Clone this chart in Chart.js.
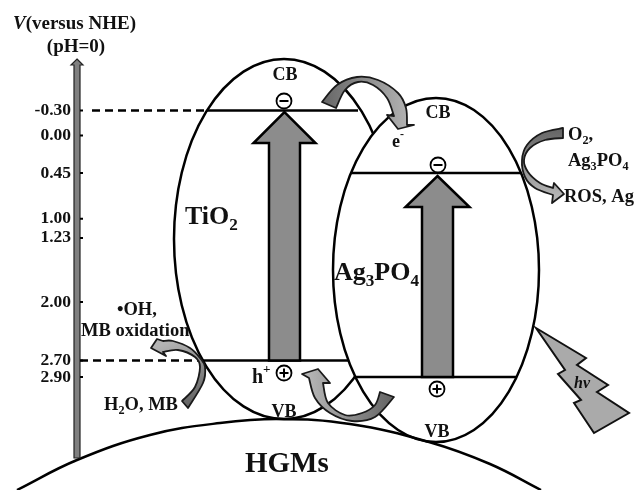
<!DOCTYPE html>
<html>
<head>
<meta charset="utf-8">
<style>
  body { margin: 0; background: #fff; }
  canvas { display: block; filter: blur(0.4px); }
</style>
<script src="https://cdn.jsdelivr.net/npm/chart.js@4"></script>
</head>
<body>
<canvas id="bandChart" width="636" height="490"></canvas>
<script>
// DATA

const potentials = [-0.30, 0.00, 0.45, 1.00, 1.23, 2.00, 2.70, 2.90];
const tio2Levels = [-0.30, 2.70];      // CB, VB
const ag3po4Levels = [0.45, 2.90];     // CB, VB
const hgmX = [17, 77, 150, 220, 279, 350, 429, 490, 541];
const hgmY = [490, 460, 435, 423, 419, 424, 442, 464, 490];

// SHAPES (x, y in picture units)

const tio2Oval = [284, 239, 110, 180];
const agOval = [436, 270, 103, 172];

const lightning = [[536,328],[586,358],[577,365],[608,385],[597,392],[629,413],[594,433],[574,403],[581,400],[558,374],[565,370]];

// each arrow: outer edge, head, inner edge
const curvedArrows = [
  { from: "#666", to: "#b4b4b4", x0: 322, x1: 410,
    outer: [[322,102],[337,85],[357,77],[378,80],[398,93],[406,108],[407,125]],
    head: [[414,125],[398,129],[387,115],[394,116]],
    inner: [[394,116],[387,98],[373,85],[358,82],[345,90],[336,108]] },
  { from: "#b4b4b4", to: "#666", x0: 560, x1: 560, y0: 195, y1: 130,
    outer: [[563,128],[542,133],[527,145],[522,160],[525,177],[535,188],[553,195]],
    head: [[552,203],[564,194],[554,183],[553,188]],
    inner: [[553,188],[540,183],[528,172],[524,160],[530,148],[545,140],[563,138]] },
  { from: "#666", to: "#b4b4b4", x0: 185, x1: 160, y0: 405, y1: 345,
    outer: [[182,401],[195,387],[200,367],[195,357],[178,350],[163,352]],
    head: [[166,356],[151,348],[157,339],[163,341]],
    inner: [[163,341],[173,341],[190,348],[200,358],[205,367],[203,383],[188,408]] },
  { from: "#666", to: "#b4b4b4", x0: 390, x1: 310,
    outer: [[394,397],[375,417],[352,421],[330,413],[315,398],[309,378]],
    head: [[302,374],[318,369],[330,383],[323,383]],
    inner: [[323,383],[328,403],[345,415],[362,413],[375,405],[380,392]] }
];

const FONT = '"Liberation Serif", serif';

// SMALL DRAW HELPERS

// curve through the points, pen already at the first one
function smooth(ctx, pts) {
  for (let i = 0; i < pts.length - 1; i++) {
    const p0 = pts[Math.max(i - 1, 0)];
    const p1 = pts[i];
    const p2 = pts[i + 1];
    const p3 = pts[Math.min(i + 2, pts.length - 1)];
    ctx.bezierCurveTo(
      p1[0] + (p2[0] - p0[0]) / 6, p1[1] + (p2[1] - p0[1]) / 6,
      p2[0] - (p3[0] - p1[0]) / 6, p2[1] - (p3[1] - p1[1]) / 6,
      p2[0], p2[1]
    );
  }
}

function drawOval(ctx, o) {
  ctx.beginPath();
  ctx.ellipse(o[0], o[1], o[2], o[3], 0, 0, Math.PI * 2);
  ctx.fillStyle = "#fff";
  ctx.fill();
  ctx.lineWidth = 2.5;
  ctx.strokeStyle = "#000";
  ctx.stroke();
}

function drawStraightArrow(ctx, x, tipY, baseY, halfShaft, halfHead, headLen) {
  ctx.beginPath();
  ctx.moveTo(x, tipY);
  ctx.lineTo(x + halfHead, tipY + headLen);
  ctx.lineTo(x + halfShaft, tipY + headLen);
  ctx.lineTo(x + halfShaft, baseY);
  ctx.lineTo(x - halfShaft, baseY);
  ctx.lineTo(x - halfShaft, tipY + headLen);
  ctx.lineTo(x - halfHead, tipY + headLen);
  ctx.closePath();
  ctx.fillStyle = "#8c8c8c";
  ctx.fill();
  ctx.lineWidth = 2.5;
  ctx.lineJoin = "miter";
  ctx.strokeStyle = "#000";
  ctx.stroke();
}

function drawCurvedArrow(ctx, a) {
  const g = ctx.createLinearGradient(a.x0, a.y0 || 0, a.x1, a.y1 || 0);
  g.addColorStop(0, a.from);
  g.addColorStop(1, a.to);
  ctx.beginPath();
  ctx.moveTo(a.outer[0][0], a.outer[0][1]);
  smooth(ctx, a.outer);
  a.head.forEach(p => ctx.lineTo(p[0], p[1]));
  smooth(ctx, a.inner);
  ctx.closePath();
  ctx.fillStyle = g;
  ctx.fill();
  ctx.lineWidth = 1.8;
  ctx.lineJoin = "round";
  ctx.strokeStyle = "#1a1a1a";
  ctx.stroke();
}

function drawSign(ctx, x, y, plus) {
  ctx.beginPath();
  ctx.arc(x, y, 7.5, 0, Math.PI * 2);
  ctx.fillStyle = "#fff";
  ctx.fill();
  ctx.lineWidth = 1.8;
  ctx.strokeStyle = "#000";
  ctx.stroke();
  ctx.beginPath();
  ctx.moveTo(x - 4.5, y);
  ctx.lineTo(x + 4.5, y);
  if (plus) {
    ctx.moveTo(x, y - 4.5);
    ctx.lineTo(x, y + 4.5);
  }
  ctx.lineWidth = 2;
  ctx.stroke();
}

// text runs: "_" starts a subscript char, "^" a superscript char
function richText(ctx, str, x, y, size, align) {
  const runs = [];
  for (let i = 0; i < str.length; i++) {
    if (str[i] === "_") { runs.push([str[++i], 1]); }
    else if (str[i] === "^") { runs.push([str[++i], -1]); }
    else if (runs.length && runs[runs.length - 1][1] === 0) { runs[runs.length - 1][0] += str[i]; }
    else { runs.push([str[i], 0]); }
  }
  const fontFor = r => "bold " + (r[1] ? size * 0.66 : size) + "px " + FONT;
  let w = 0;
  runs.forEach(r => { ctx.font = fontFor(r); w += ctx.measureText(r[0]).width; });
  let cx = align === "center" ? x - w / 2 : x;
  ctx.textAlign = "left";
  ctx.textBaseline = "alphabetic";
  ctx.fillStyle = "#111";
  runs.forEach(r => {
    ctx.font = fontFor(r);
    ctx.fillText(r[0], cx, y + r[1] * size * (r[1] > 0 ? 0.22 : 0.5));
    cx += ctx.measureText(r[0]).width;
  });
}

// DIAGRAM PLUGIN

const bandDiagram = {
  id: "bandDiagram",
  beforeDatasetsDraw(chart) {
    const ctx = chart.ctx;
    ctx.save();
    drawOval(ctx, tio2Oval);
    drawOval(ctx, agOval);
    ctx.restore();
  },
  afterDatasetsDraw(chart) {
    const ctx = chart.ctx;
    const v = chart.scales.y;
    ctx.save();

    // potential axis bar
    ctx.beginPath();
    ctx.moveTo(77, 59);
    ctx.lineTo(83, 65);
    ctx.lineTo(80, 65);
    ctx.lineTo(80, 458);
    ctx.lineTo(74, 458);
    ctx.lineTo(74, 65);
    ctx.lineTo(71, 65);
    ctx.closePath();
    ctx.fillStyle = "#808080";
    ctx.fill();
    ctx.lineWidth = 1.2;
    ctx.strokeStyle = "#222";
    ctx.stroke();

    // tick marks
    ctx.beginPath();
    potentials.forEach(p => {
      ctx.moveTo(80, v.getPixelForValue(p));
      ctx.lineTo(83, v.getPixelForValue(p));
    });
    ctx.lineWidth = 2;
    ctx.strokeStyle = "#000";
    ctx.stroke();

    // big arrows run from VB up to CB
    drawStraightArrow(ctx, 284.5, v.getPixelForValue(tio2Levels[0]) + 1.5, v.getPixelForValue(tio2Levels[1]), 15.5, 31, 31);
    drawStraightArrow(ctx, 437.5, v.getPixelForValue(ag3po4Levels[0]) + 3, v.getPixelForValue(ag3po4Levels[1]), 15.5, 32, 31);

    curvedArrows.forEach(a => drawCurvedArrow(ctx, a));

    // hv flash
    ctx.beginPath();
    lightning.forEach((p, i) => i ? ctx.lineTo(p[0], p[1]) : ctx.moveTo(p[0], p[1]));
    ctx.closePath();
    ctx.fillStyle = "#aaaaaa";
    ctx.fill();
    ctx.lineWidth = 2;
    ctx.lineJoin = "miter";
    ctx.strokeStyle = "#111";
    ctx.stroke();

    drawSign(ctx, 284, 101, false);
    drawSign(ctx, 438, 165, false);
    drawSign(ctx, 284, 373, true);
    drawSign(ctx, 437, 389, true);

    // labels
    ctx.fillStyle = "#111";
    ctx.textAlign = "left";
    ctx.font = "italic bold 19px " + FONT;
    ctx.fillText("V", 13, 29);
    const vw = ctx.measureText("V").width;
    richText(ctx, "(versus NHE)", 13 + vw, 29, 19, "left");
    richText(ctx, "(pH=0)", 76, 52, 19, "center");
    richText(ctx, "CB", 285, 80, 18, "center");
    richText(ctx, "CB", 438, 118, 18, "center");
    richText(ctx, "VB", 284, 417, 18, "center");
    richText(ctx, "VB", 437, 437, 18, "center");
    richText(ctx, "TiO_2", 185, 224, 26, "left");
    richText(ctx, "Ag_3PO_4", 334, 280, 26, "left");
    richText(ctx, "e^-", 392, 147, 18, "left");
    richText(ctx, "h^+", 252, 383, 20, "left");
    richText(ctx, "O_2,", 568, 140, 18.5, "left");
    richText(ctx, "Ag_3PO_4", 568, 166, 18.5, "left");
    richText(ctx, "ROS, Ag", 564, 202, 18.5, "left");
    richText(ctx, "\u2022OH,", 117, 315, 18.5, "left");
    richText(ctx, "MB oxidation", 81, 336, 18.5, "left");
    richText(ctx, "H_2O, MB", 104, 410, 18.5, "left");
    richText(ctx, "HGMs", 245, 472, 29, "left");
    ctx.fillStyle = "#111";
    ctx.font = "italic bold 16px " + FONT;
    ctx.fillText("hv", 574, 388);
    ctx.restore();
  }
};

// CHART

function level(x0, x1, value, dashed) {
  return {
    data: [{ x: x0, y: value }, { x: x1, y: value }],
    yAxisID: "y",
    showLine: true,
    pointRadius: 0,
    borderColor: "#000",
    borderWidth: 2.5,
    borderDash: dashed ? [8, 5] : []
  };
}

new Chart(document.getElementById("bandChart"), {
  type: "scatter",
  data: {
    datasets: [
      level(92, 207, tio2Levels[0], true),
      level(80, 203, tio2Levels[1], true),
      level(207, 358, tio2Levels[0]),
      level(203, 348, tio2Levels[1]),
      level(351, 521, ag3po4Levels[0]),
      level(356, 516, ag3po4Levels[1]),
      {
        data: hgmX.map((x, i) => ({ x: x, y: hgmY[i] })),
        yAxisID: "py",
        showLine: true,
        tension: 0.4,
        pointRadius: 0,
        borderColor: "#000",
        borderWidth: 2.5
      }
    ]
  },
  options: {
    responsive: false,
    animation: false,
    layout: { padding: 0 },
    plugins: { legend: { display: false }, tooltip: { enabled: false } },
    scales: {
      x: { type: "linear", min: 0, max: 636, display: false },
      py: { type: "linear", min: 0, max: 490, reverse: true, display: false },
      y: {
        type: "linear",
        axis: "y",
        position: { x: 71 },
        min: -1.6267,
        max: 4.2557,
        reverse: true,
        afterBuildTicks: s => { s.ticks = potentials.map(p => ({ value: p })); },
        afterFit: s => { s.paddingTop = 0; s.paddingBottom = 0; },
        border: { display: false },
        grid: { display: false },
        ticks: {
          autoSkip: false,
          color: "#111",
          font: { family: FONT, size: 17.5, weight: "bold" },
          callback: val => val.toFixed(2)
        }
      }
    }
  },
  plugins: [bandDiagram]
});
</script>
</body>
</html>
